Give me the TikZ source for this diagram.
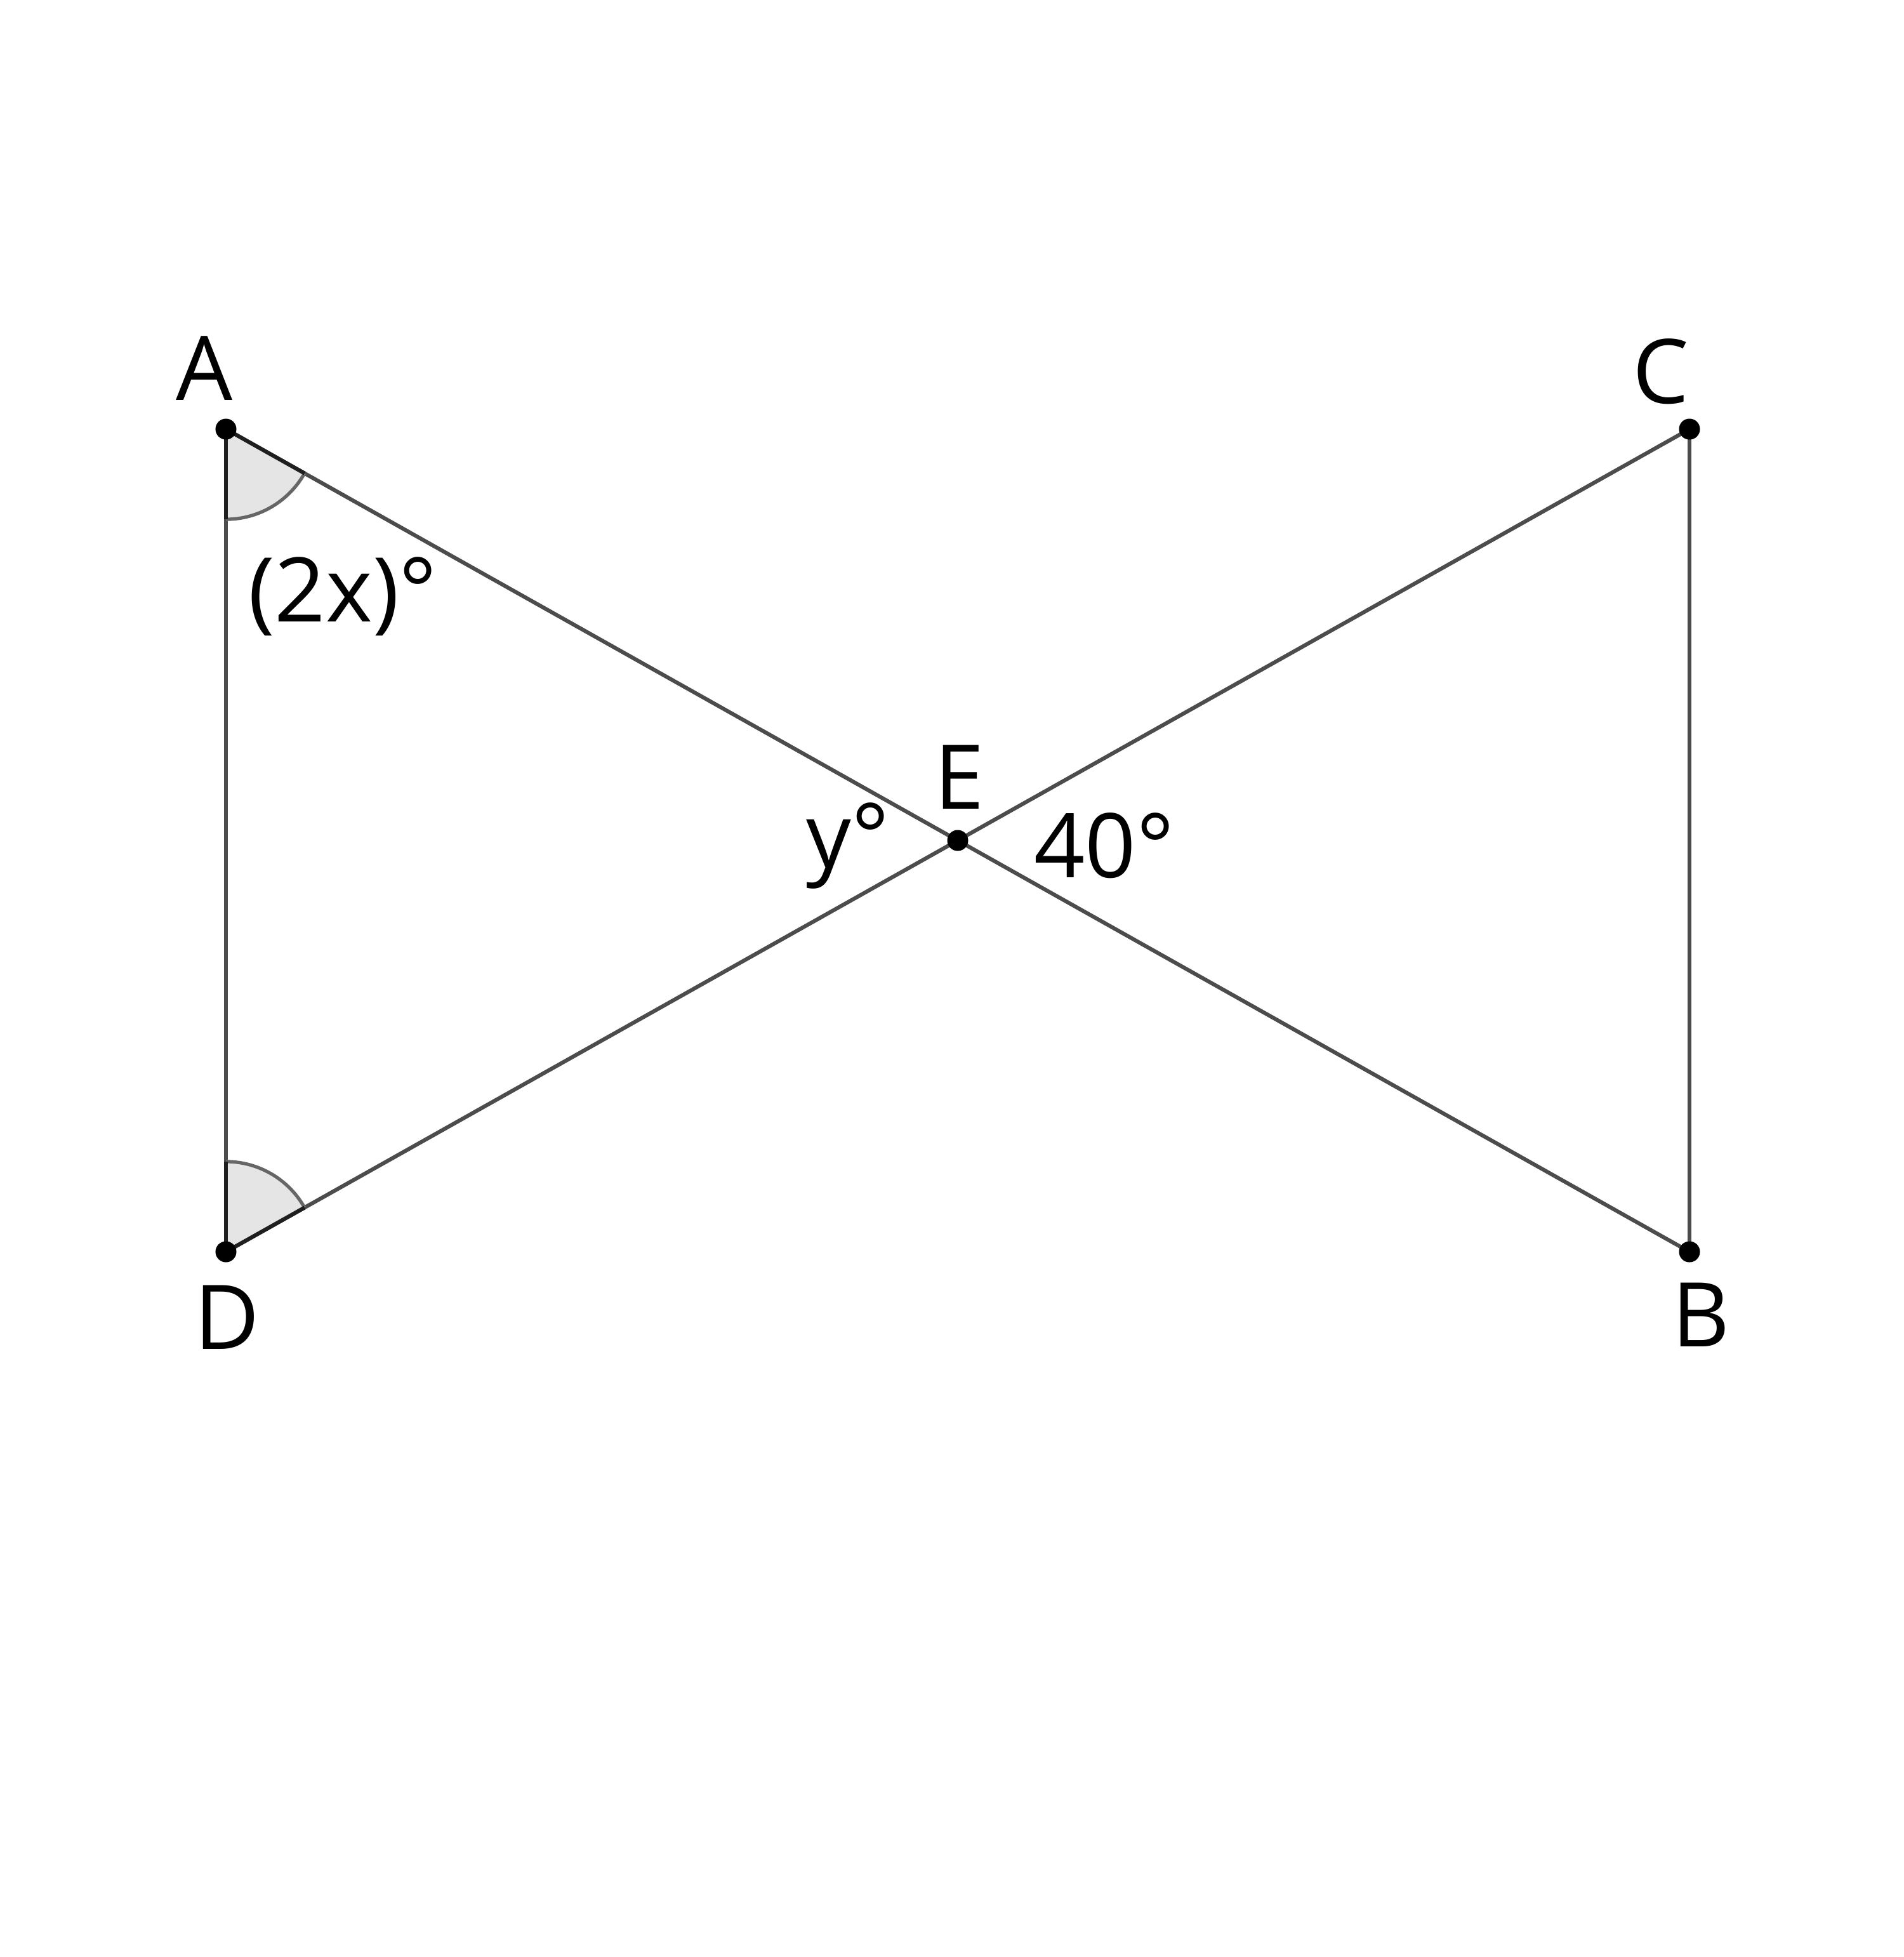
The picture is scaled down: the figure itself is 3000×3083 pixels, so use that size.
\documentclass[tikz,border=0pt]{standalone}
\usepackage{fontspec}
\setmainfont{Open Sans}
\usetikzlibrary{angles,calc}

\begin{document}
\begin{tikzpicture}[
  x=0.01cm, y=-0.01cm,
  seg/.style={draw=black!70, line width=1.75pt},
  side/.style={draw=black!88, line width=1.75pt},
  angmark/.style={draw=black!60, line width=1.5pt, fill=black!10, angle radius=1.42cm},
  lbl/.style={inner sep=0pt, anchor=base, font=\fontsize{40}{48}\selectfont}
]
  \useasboundingbox (0,0) rectangle (3000,3083);
  \coordinate (A) at (356,676);
  \coordinate (C) at (2662,676);
  \coordinate (D) at (356,1972);
  \coordinate (B) at (2662,1972);
  \coordinate (E) at (1509,1324);

  \draw[seg] (A) -- (B);
  \draw[seg] (C) -- (D);
  \draw[seg] (A) -- (D);
  \draw[seg] (C) -- (B);

  \pic[angmark] {angle=D--A--E};
  \pic[angmark] {angle=E--D--A};
  \draw[side] (A) -- ($(A)!1.42cm!(D)$);
  \draw[side] (A) -- ($(A)!1.42cm!(E)$);
  \draw[side] (D) -- ($(D)!1.42cm!(A)$);
  \draw[side] (D) -- ($(D)!1.42cm!(E)$);

  \foreach \p in {A,B,C,D,E}
    \fill (\p) circle[radius=0.165cm];

  \node[lbl] (lA) at (322,630) {A};
  \node[lbl] (lC) at (2617,635) {C};
  \node[lbl] (lD) at (358,2125) {D};
  \node[lbl] (lB) at (2680,2121) {B};
  \node[lbl] (lE) at (1512,1274) {E};
  \node[lbl] (l2x) at (540,979) {(2x)°};
  \node[lbl] (ly) at (1336,1366) {y°};
  \node[lbl] (l40) at (1740,1382) {40°};
\end{tikzpicture}
\end{document}
